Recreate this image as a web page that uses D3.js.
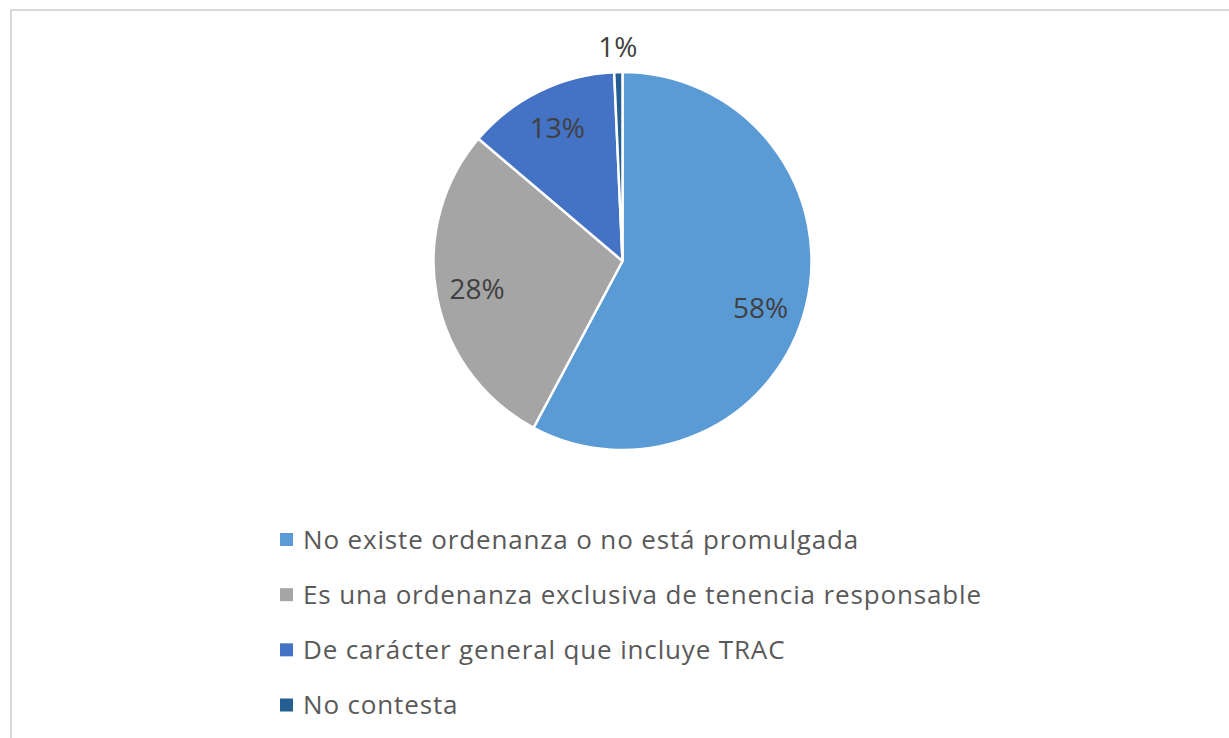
<!DOCTYPE html>
<html>
<head>
<meta charset="utf-8">
<script src="https://cdn.jsdelivr.net/npm/d3@7"></script>
<style>
  html, body { margin: 0; padding: 0; background: #fff; }
  svg { display: block; }
</style>
</head>
<body>
<svg id="chart" width="1229" height="738"></svg>
<script>
const categories = [
  "No existe ordenanza o no está promulgada",
  "Es una ordenanza exclusiva de tenencia responsable",
  "De carácter general que incluye TRAC",
  "No contesta"
];
const values = [57.8, 28.4, 13.1, 0.7];
const labels = ["58%", "28%", "13%", "1%"];
const colors = ["#5B9BD5", "#A5A5A5", "#4472C4", "#255E91"];

const svg = d3.select("#chart");
const W = 1229, H = 738;

// chart border
svg.append("rect")
  .attr("x", 11).attr("y", 10)
  .attr("width", W + 20).attr("height", H + 20)
  .attr("fill", "#fff")
  .attr("stroke", "#D9D9D9").attr("stroke-width", 2);

const cx = 622.5, cy = 261, R = 189;
const g = svg.append("g").attr("transform", `translate(${cx},${cy})`);

const data = categories.map((c, i) => ({ cat: c, value: values[i], label: labels[i], color: colors[i] }));
const pie = d3.pie().value(d => d.value).sort(null);
const arcs = pie(data);
const arc = d3.arc().innerRadius(0).outerRadius(R);

g.selectAll("path.slice")
  .data(arcs)
  .join("path")
  .attr("class", "slice")
  .attr("d", arc)
  .attr("fill", d => d.data.color)
  .attr("stroke", "#fff")
  .attr("stroke-width", 2.5)
  .attr("stroke-linejoin", "round");

const labelArcIn = d3.arc().innerRadius(148).outerRadius(148);
const labelArcOut = d3.arc().innerRadius(R + 25).outerRadius(R + 25);

g.selectAll("text.pct")
  .data(arcs)
  .join("text")
  .attr("class", "pct")
  .attr("transform", d => {
    const small = (d.endAngle - d.startAngle) < 0.1;
    let [x, y] = (small ? labelArcOut : labelArcIn).centroid(d);
    // large slice: label sits a little lower (best-fit placement)
    if (d.endAngle - d.startAngle > Math.PI) {
      const a = (d.startAngle + d.endAngle) / 2 + 0.085;
      x = 146 * Math.sin(a); y = -146 * Math.cos(a);
    }
    return `translate(${x},${y})`;
  })
  .attr("text-anchor", "middle")
  .attr("dy", "0.36em")
  .attr("font-family", "'Open Sans', sans-serif")
  .attr("font-size", 28)
  .attr("fill", "#404040")
  .text(d => d.data.label);

// legend
const legendY = d3.scalePoint().domain(categories).range([539.5, 705]);
const lg = svg.append("g");
const rows = lg.selectAll("g.row").data(data).join("g")
  .attr("class", "row")
  .attr("transform", d => `translate(0,${legendY(d.cat)})`);
rows.append("rect")
  .attr("x", 280).attr("y", -6.5)
  .attr("width", 13).attr("height", 13)
  .attr("fill", d => d.color);
rows.append("text")
  .attr("x", 303)
  .attr("y", 9.4)
  .attr("font-family", "'Open Sans', sans-serif")
  .attr("font-size", 26)
  .attr("letter-spacing", 0.85)
  .attr("fill", "#595959")
  .text(d => d.cat);
</script>
</body>
</html>
